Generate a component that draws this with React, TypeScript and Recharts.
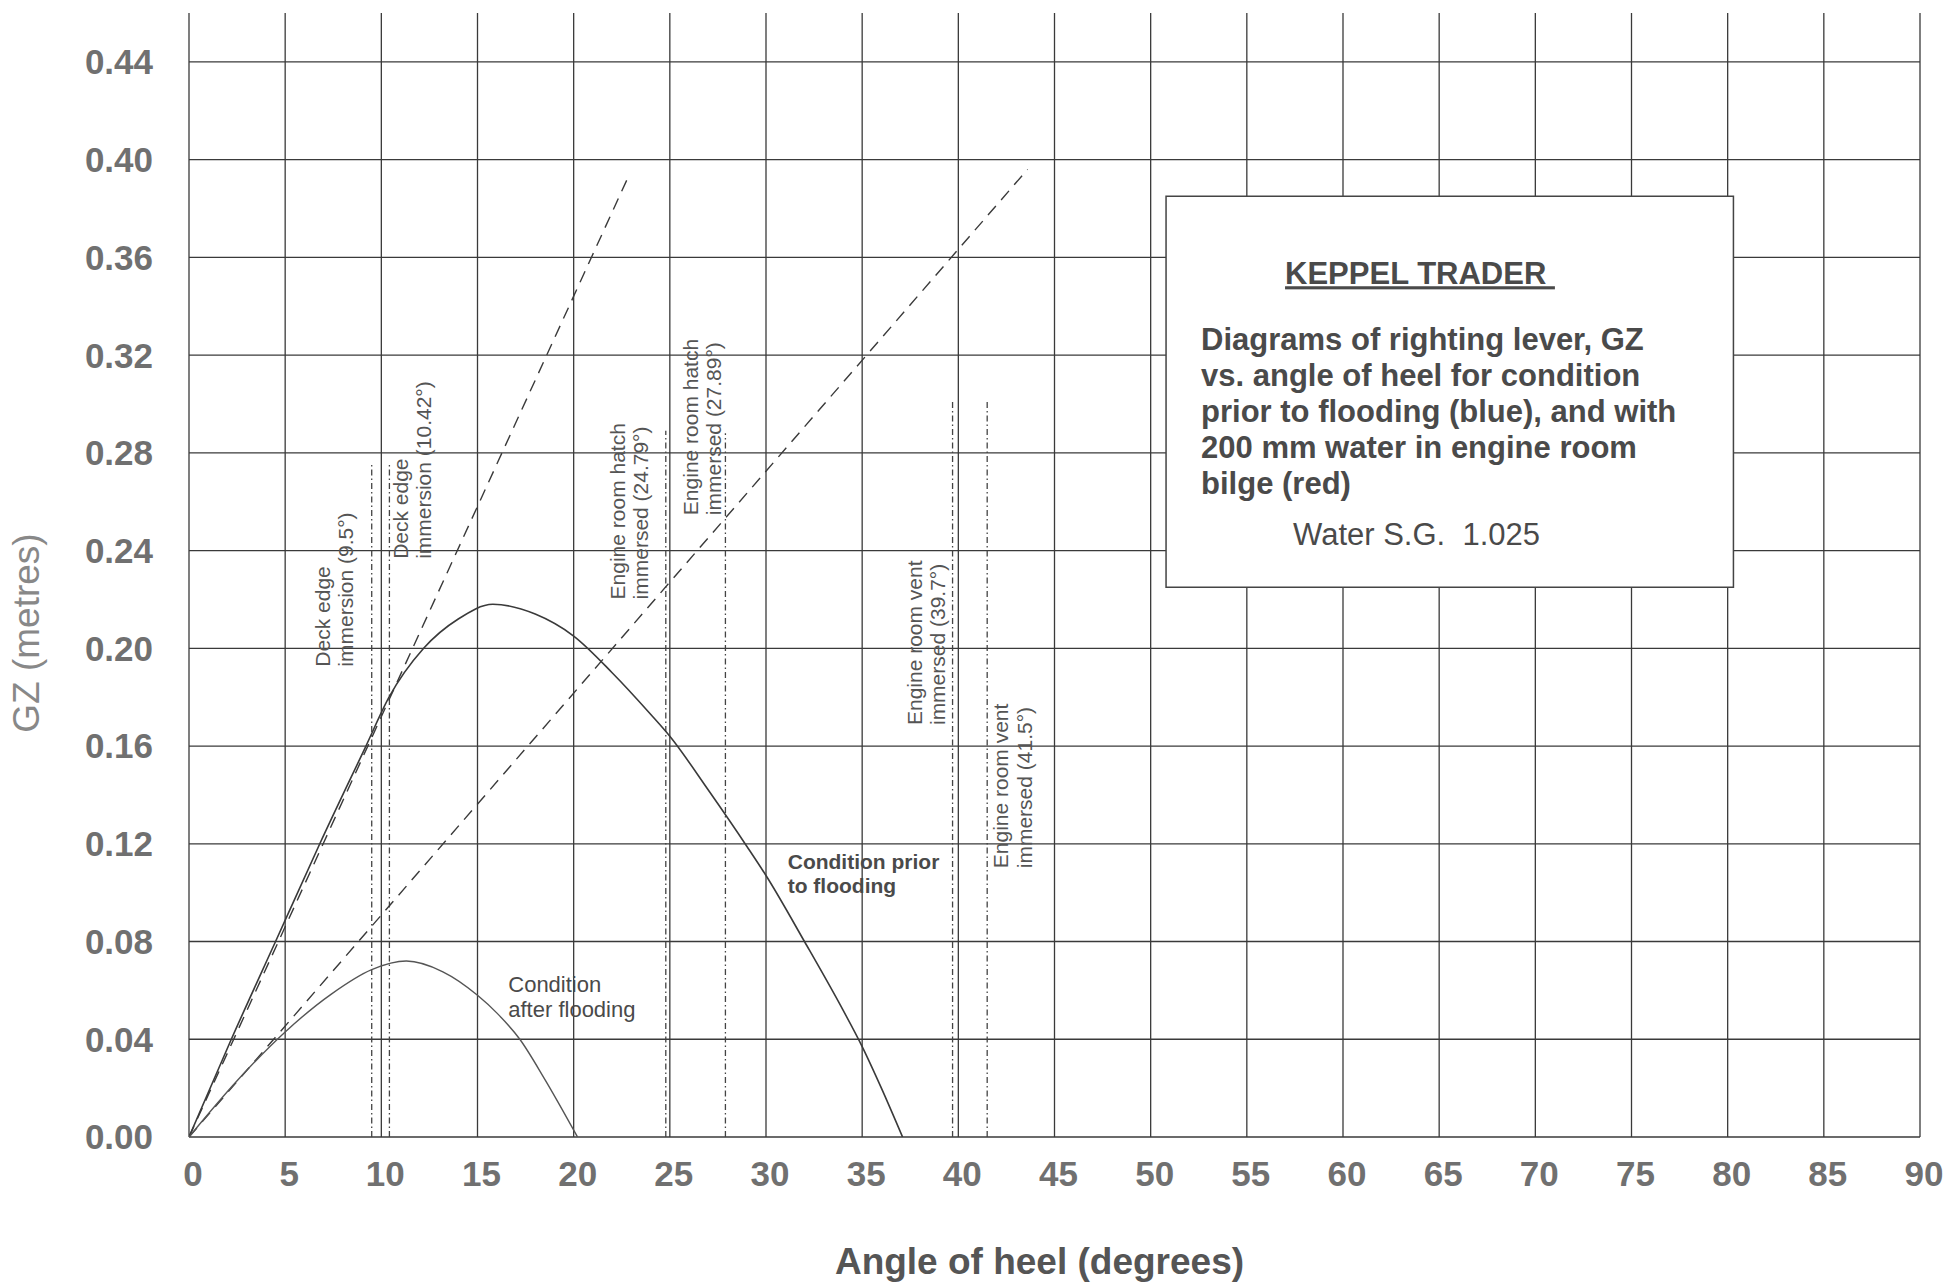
import React from 'react';
import {
  LineChart,
  Line,
  XAxis,
  YAxis,
  CartesianGrid,
  ReferenceLine,
  ReferenceDot,
  ReferenceArea,
} from 'recharts';

const FONT = '"Liberation Sans", Arial, Helvetica, sans-serif';
const INK = '#3a3a3a';

const xTicks = [0, 5, 10, 15, 20, 25, 30, 35, 40, 45, 50, 55, 60, 65, 70, 75, 80, 85, 90];
const yTicks = [0, 0.04, 0.08, 0.12, 0.16, 0.2, 0.24, 0.28, 0.32, 0.36, 0.4, 0.44];

// GZ curve, condition prior to flooding
const priorAngles = [0, 2.2, 4.5, 6.8, 9.2, 10.4, 12.2, 14, 15.8, 18, 20, 22, 24, 25, 27, 29, 30, 32, 34, 35, 36, 37.1];
const priorGz = [0, 0.04, 0.08, 0.12, 0.16, 0.18, 0.2, 0.212, 0.218, 0.214, 0.205, 0.19, 0.173, 0.164, 0.142, 0.119, 0.107, 0.08, 0.052, 0.037, 0.02, 0];

// GZ curve, 200 mm water in engine room bilge
const floodedAngles = [0, 2.5, 5, 7.4, 9.5, 11.3, 13.2, 15, 16, 17.2, 18.5, 20.2];
const floodedGz = [0, 0.023, 0.043, 0.0585, 0.0685, 0.072, 0.0676, 0.058, 0.0508, 0.04, 0.0236, 0];

// dashed lines drawn from the origin
const steepAngles = [0, 22.9];
const steepGz = [0, 0.394];
const shallowAngles = [0, 43.6];
const shallowGz = [0, 0.396];

// immersion angles (dash-dot verticals)
const markerAngles = [9.5, 10.42, 24.79, 27.89, 39.7, 41.5];
const markerTops = [0.275, 0.275, 0.289, 0.288, 0.301, 0.301];
const markerTitles = ['Deck edge', 'Deck edge', 'Engine room hatch', 'Engine room hatch', 'Engine room vent', 'Engine room vent'];
const markerSubtitles = [
  'immersion (9.5°)',
  'immersion (10.42°)',
  'immersed (24.79°)',
  'immersed (27.89°)',
  'immersed (39.7°)',
  'immersed (41.5°)',
];
// where each rotated note starts (angle, GZ)
const markerNoteAt = [
  [7.33, 0.1925],
  [11.38, 0.2366],
  [22.65, 0.22],
  [26.45, 0.2545],
  [38.1, 0.1686],
  [42.6, 0.11],
];

const boxTitle = 'KEPPEL TRADER';
const boxLines = [
  'Diagrams of righting lever, GZ',
  'vs. angle of heel for condition',
  'prior to flooding (blue), and with',
  '200 mm water in engine room',
  'bilge (red)',
];
const boxFooter = 'Water S.G.  1.025';

const toPoints = (xs: number[], ys: number[]) => xs.map((x, i) => ({ x, gz: ys[i] }));

function VerticalNote({ cx, cy, lines }: { cx?: number; cy?: number; lines: string[] }) {
  if (cx == null || cy == null) return null;
  return (
    <text
      x={cx}
      y={cy}
      transform={`rotate(-90, ${cx}, ${cy})`}
      fontFamily={FONT}
      fontSize={21}
      fill="#555"
    >
      {lines.map((l, i) => (
        <tspan key={i} x={cx} dy={i === 0 ? 0 : '1.12em'}>
          {l}
        </tspan>
      ))}
    </text>
  );
}

function Note({ cx, cy, lines, bold, size }: { cx?: number; cy?: number; lines: string[]; bold?: boolean; size: number }) {
  if (cx == null || cy == null) return null;
  return (
    <text x={cx} y={cy} fontFamily={FONT} fontSize={size} fontWeight={bold ? 700 : 400} fill="#4a4a4a">
      {lines.map((l, i) => (
        <tspan key={i} x={cx} dy={i === 0 ? 0 : '1.15em'}>
          {l}
        </tspan>
      ))}
    </text>
  );
}

function BoxText({ cx, cy }: { cx?: number; cy?: number }) {
  if (cx == null || cy == null) return null;
  return (
    <g fontFamily={FONT} fill="#4a4a4a">
      <text x={cx + 119} y={cy + 88} fontSize={31} fontWeight={700} textDecoration="underline">
        {boxTitle + '\u00a0'}
      </text>
      {boxLines.map((l, i) => (
        <text key={i} x={cx + 35} y={cy + 154 + i * 36} fontSize={31} fontWeight={700}>
          {l}
        </text>
      ))}
      <text x={cx + 127} y={cy + 349} fontSize={31} style={{ whiteSpace: 'pre' }}>
        {boxFooter}
      </text>
    </g>
  );
}

export default function App() {
  return (
    <div style={{ position: 'absolute', left: 0, top: 0, width: 1953, height: 1285, background: '#fff' }}>
      <LineChart width={1953} height={1285} margin={{ top: 13, right: 33, bottom: 0, left: 0 }}>
        <CartesianGrid
          stroke={INK}
          strokeWidth={1.3}
          horizontalValues={yTicks}
          verticalValues={xTicks}
        />
        <XAxis
          type="number"
          dataKey="x"
          domain={[0, 90]}
          ticks={xTicks}
          interval={0}
          allowDataOverflow
          height={148}
          axisLine={false}
          tickLine={false}
          tickSize={0}
          tickMargin={24}
          tick={{ fill: '#707070', fontSize: 35, fontFamily: FONT, fontWeight: 700, dx: 4 }}
          label={{
            value: 'Angle of heel (degrees)',
            position: 'insideBottom',
            offset: 11,
            dx: -15,
            fill: '#555',
            fontSize: 37,
            fontFamily: FONT,
            fontWeight: 700,
          }}
        />
        <YAxis
          type="number"
          domain={[0, 0.46]}
          ticks={yTicks}
          interval={0}
          allowDataOverflow
          width={189}
          axisLine={false}
          tickLine={false}
          tickSize={0}
          tickMargin={36}
          tickFormatter={(v: number) => v.toFixed(2)}
          tick={{ fill: '#707070', fontSize: 35, fontFamily: FONT, fontWeight: 700 }}
          label={{
            value: 'GZ (metres)',
            angle: -90,
            position: 'center',
            dx: -69,
            dy: 58,
            fill: '#888',
            fontSize: 37,
            fontFamily: FONT,
          }}
        />

        <ReferenceArea
          x1={50.8}
          x2={80.3}
          y1={0.225}
          y2={0.385}
          fill="#fff"
          fillOpacity={1}
          stroke="#444"
          strokeWidth={1.5}
        />
        <ReferenceDot x={50.8} y={0.385} r={0} shape={(p: any) => <BoxText cx={p.cx} cy={p.cy} />} />

        {markerAngles.map((a, i) => (
          <ReferenceLine
            key={`m${i}`}
            segment={[
              { x: a, y: 0 },
              { x: a, y: markerTops[i] },
            ]}
            stroke="#444"
            strokeWidth={1.3}
            strokeDasharray="6 3 1.5 3"
          />
        ))}
        {markerAngles.map((a, i) => (
          <ReferenceDot
            key={`n${i}`}
            x={markerNoteAt[i][0]}
            y={markerNoteAt[i][1]}
            r={0}
            shape={(p: any) => (
              <VerticalNote cx={p.cx} cy={p.cy} lines={[markerTitles[i], markerSubtitles[i]]} />
            )}
          />
        ))}

        <ReferenceDot
          x={31.13}
          y={0.1098}
          r={0}
          shape={(p: any) => <Note cx={p.cx} cy={p.cy} lines={['Condition prior', 'to flooding']} bold size={21} />}
        />
        <ReferenceDot
          x={16.6}
          y={0.0595}
          r={0}
          shape={(p: any) => <Note cx={p.cx} cy={p.cy} lines={['Condition', 'after flooding']} size={22} />}
        />

        <Line
          data={toPoints(steepAngles, steepGz)}
          dataKey="gz"
          type="linear"
          stroke={INK}
          strokeWidth={1.4}
          strokeDasharray="12 8"
          dot={false}
          isAnimationActive={false}
        />
        <Line
          data={toPoints(shallowAngles, shallowGz)}
          dataKey="gz"
          type="linear"
          stroke={INK}
          strokeWidth={1.4}
          strokeDasharray="12 8"
          dot={false}
          isAnimationActive={false}
        />
        <Line
          data={toPoints(priorAngles, priorGz)}
          dataKey="gz"
          type="monotone"
          stroke={INK}
          strokeWidth={1.6}
          dot={false}
          isAnimationActive={false}
        />
        <Line
          data={toPoints(floodedAngles, floodedGz)}
          dataKey="gz"
          type="monotone"
          stroke="#555"
          strokeWidth={1.4}
          dot={false}
          isAnimationActive={false}
        />
      </LineChart>
    </div>
  );
}
